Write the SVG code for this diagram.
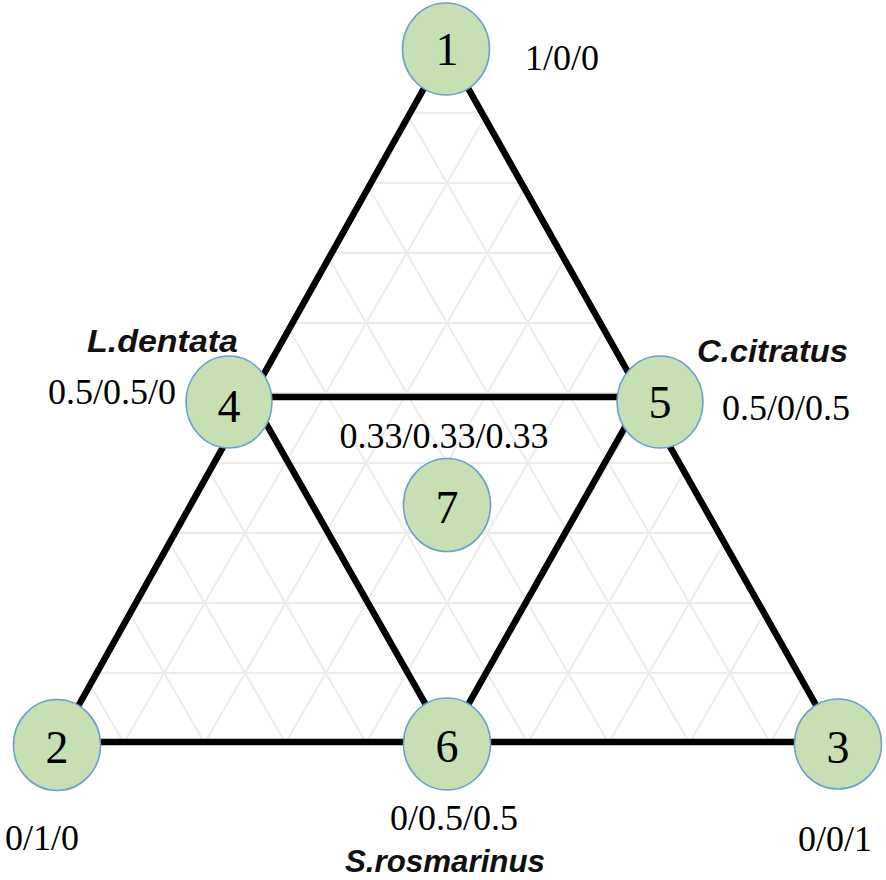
<svg xmlns="http://www.w3.org/2000/svg" width="886" height="880" viewBox="0 0 886 880">
<style>
.grid{stroke:#ececec;stroke-width:2;fill:none}
.edge{stroke:#000;stroke-width:6.5;stroke-linecap:round;fill:none}
.node{fill:#c6e0b4;stroke:#6b9fd3;stroke-width:1.6}
.num{font-family:"Liberation Serif","Times New Roman",serif;font-size:46px;fill:#000;text-anchor:middle}
.lbl{font-family:"Liberation Serif","Times New Roman",serif;font-size:36px;fill:#000}
.sp{font-family:"Liberation Sans",Arial,sans-serif;font-size:31px;font-weight:bold;font-style:italic;fill:#111}
</style>
<defs>
<clipPath id="tri"><polygon points="446,49 57,744 838,744"/></clipPath>
</defs>
<rect width="886" height="880" fill="#fff"/>
<g id="grid" clip-path="url(#tri)">
<path class="grid" d="M0,113H886M0,183H886M0,253H886M0,323H886M0,393H886M0,463H886M0,533H886M0,603H886M0,673H886
M123.8,743L527.8,43M204.6,743L608.6,43M285.4,743L689.4,43M366.2,743L770.2,43M447,743L851,43M527.8,743L931.8,43M608.6,743L1012.6,43M689.4,743L1093.4,43M770.2,743L1174.2,43
M770.2,743L366.2,43M689.4,743L285.4,43M608.6,743L204.6,43M527.8,743L123.8,43M447,743L43,43M366.2,743L-37.8,43M285.4,743L-118.6,43M204.6,743L-199.4,43M123.8,743L-280.2,43"/>
</g>
<g id="connectors">
<line class="edge" x1="446" y1="49" x2="251" y2="397"/>
<line class="edge" x1="251" y1="397" x2="57" y2="744"/>
<line class="edge" x1="446" y1="49" x2="642" y2="397"/>
<line class="edge" x1="642" y1="397" x2="838" y2="744"/>
<line class="edge" x1="57" y1="742" x2="447" y2="742"/>
<line class="edge" x1="447" y1="742" x2="838" y2="742"/>
<line class="edge" x1="229" y1="397" x2="660" y2="397"/>
<line class="edge" x1="251" y1="397" x2="447" y2="742"/>
<line class="edge" x1="642" y1="397" x2="447" y2="742"/>
</g>
<g id="node1"><ellipse class="node" cx="446" cy="49" rx="43.5" ry="46"/><text class="num" x="447" y="65">1</text></g>
<g id="node2"><ellipse class="node" cx="57" cy="745" rx="43.5" ry="45.5"/><text class="num" x="57" y="763">2</text></g>
<g id="node3"><ellipse class="node" cx="838" cy="744" rx="43.5" ry="45"/><text class="num" x="838" y="763">3</text></g>
<g id="node4"><ellipse class="node" cx="229" cy="402" rx="43" ry="46"/><text class="num" x="229" y="422">4</text></g>
<g id="node5"><ellipse class="node" cx="660" cy="402" rx="43" ry="46"/><text class="num" x="660" y="418">5</text></g>
<g id="node6"><ellipse class="node" cx="447" cy="744" rx="43.5" ry="46"/><text class="num" x="447" y="762">6</text></g>
<g id="node7"><ellipse class="node" cx="447" cy="505" rx="43.5" ry="46.5"/><text class="num" x="447" y="523">7</text></g>
<g id="labels">
<text class="lbl" x="525" y="70">1/0/0</text>
<text class="lbl" x="48" y="404">0.5/0.5/0</text>
<text class="lbl" x="722" y="420">0.5/0/0.5</text>
<text class="lbl" x="444" y="448" text-anchor="middle">0.33/0.33/0.33</text>
<text class="lbl" x="5" y="850">0/1/0</text>
<text class="lbl" x="798" y="851">0/0/1</text>
<text class="lbl" x="390" y="830">0/0.5/0.5</text>
<text class="sp" x="87" y="352" textLength="151" lengthAdjust="spacingAndGlyphs">L.dentata</text>
<text class="sp" x="697" y="362" textLength="151" lengthAdjust="spacingAndGlyphs">C.citratus</text>
<text class="sp" x="345" y="872" textLength="200" lengthAdjust="spacingAndGlyphs">S.rosmarinus</text>
</g>
</svg>
